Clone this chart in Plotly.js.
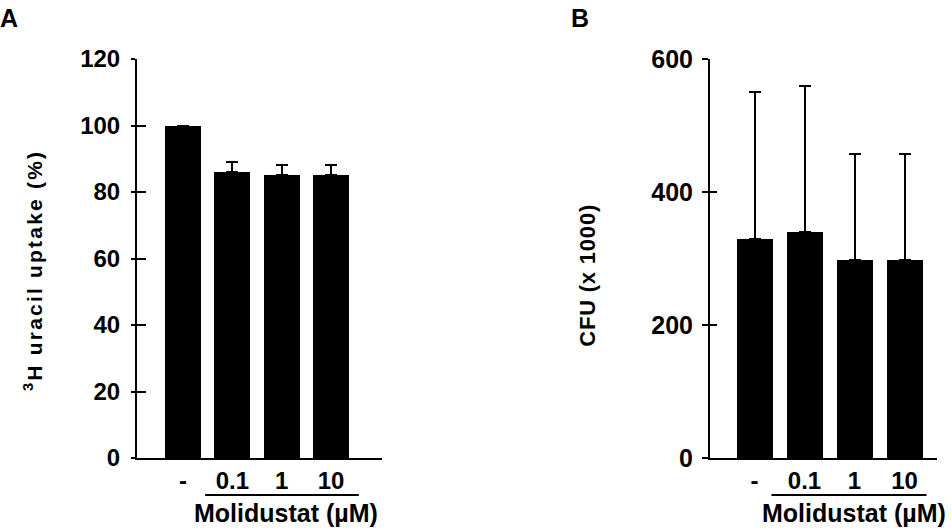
<!DOCTYPE html>
<html>
<head>
<meta charset="utf-8">
<script src="https://cdn.plot.ly/plotly-3.0.1.min.js"></script>
<style>
  html, body { margin: 0; padding: 0; background: #fff; }
  #chart { width: 952px; height: 532px; }
  g.annotation[data-index="0"] text { letter-spacing: 2.2px; }
  g.annotation[data-index="1"] text { letter-spacing: 0.8px; }
</style>
</head>
<body>
<div id="chart"></div>
<script>
// ---- data ----
const categories = ['-', '0.1', '1', '10'];
const uptakeMean = [100, 86, 85, 85];
const uptakeErr = [0, 3, 3, 3];
const cfuMean = [330, 340, 297, 297];
const cfuErr = [220, 220, 160, 160];
const yTicksA = [0, 20, 40, 60, 80, 100, 120];
const yTicksB = [0, 200, 400, 600];
const titleA = '<sup>3</sup>H uracil uptake (%)';
const titleB = 'CFU (x 1000)';
const groupLabel = 'Molidustat (µM)';

const xIdx = categories.map((c, i) => i);
const zeros = categories.map(() => 0);

const sans = '"Liberation Sans", Arial, Helvetica, sans-serif';

const barA = {
  type: 'bar', x: xIdx, y: uptakeMean, width: 0.73,
  marker: { color: '#000', line: { width: 0 } },
  error_y: { type: 'data', symmetric: false, array: uptakeErr, arrayminus: zeros,
             color: '#000', thickness: 2, width: 6 },
  xaxis: 'x', yaxis: 'y', hoverinfo: 'skip', showlegend: false
};
const barB = {
  type: 'bar', x: xIdx, y: cfuMean, width: 0.72,
  marker: { color: '#000', line: { width: 0 } },
  error_y: { type: 'data', symmetric: false, array: cfuErr, arrayminus: zeros,
             color: '#000', thickness: 2, width: 6 },
  xaxis: 'x2', yaxis: 'y2', hoverinfo: 'skip', showlegend: false
};
// invisible helpers so the overlay axes (inner tick halves) get drawn
const ghostA = { type: 'scatter', mode: 'markers', x: xIdx, y: uptakeMean, marker: { opacity: 0 },
  xaxis: 'x', yaxis: 'y3', hoverinfo: 'skip', showlegend: false };
const ghostB = { type: 'scatter', mode: 'markers', x: xIdx, y: cfuMean, marker: { opacity: 0 },
  xaxis: 'x2', yaxis: 'y4', hoverinfo: 'skip', showlegend: false };

const yDom = [1 - 458 / 532, 1 - 59 / 532];

const layout = {
  width: 952, height: 532,
  margin: { l: 0, r: 0, t: 0, b: 0 },
  paper_bgcolor: '#fff', plot_bgcolor: '#fff',
  showlegend: false,
  bargap: 0,
  xaxis: {
    domain: [137 / 952, 382 / 952], range: [-0.93, 4.03], anchor: 'y',
    showgrid: false, zeroline: false, showline: true, linecolor: '#000', linewidth: 2,
    ticks: '', tickvals: xIdx, ticktext: categories, ticklabelstandoff: 0,
    tickfont: { family: sans, size: 24, color: '#000', weight: 700 }
  },
  yaxis: {
    domain: yDom, range: [0, 120], anchor: 'x',
    showgrid: false, zeroline: false, showline: true, linecolor: '#000', linewidth: 2,
    ticks: 'outside', ticklen: 4, tickwidth: 2, tickcolor: '#000',
    tickvals: yTicksA, ticklabelstandoff: 6,
    tickfont: { family: sans, size: 24, color: '#000', weight: 700 }
  },
  yaxis3: {
    overlaying: 'y', anchor: 'x', side: 'left', range: [0, 120],
    showgrid: false, zeroline: false, showline: false,
    ticks: 'inside', ticklen: 9, tickwidth: 2, tickcolor: '#000',
    tickvals: yTicksA.filter(v => v > 0), showticklabels: false
  },
  xaxis2: {
    domain: [710 / 952, 937 / 952], range: [-0.89, 3.65], anchor: 'y2',
    showgrid: false, zeroline: false, showline: true, linecolor: '#000', linewidth: 2,
    ticks: '', tickvals: xIdx, ticktext: categories, ticklabelstandoff: 0,
    tickfont: { family: sans, size: 24, color: '#000', weight: 700 }
  },
  yaxis2: {
    domain: yDom, range: [0, 600], anchor: 'x2',
    showgrid: false, zeroline: false, showline: true, linecolor: '#000', linewidth: 2,
    ticks: 'outside', ticklen: 6, tickwidth: 2, tickcolor: '#000',
    tickvals: yTicksB, ticklabelstandoff: 4,
    tickfont: { family: sans, size: 25, color: '#000', weight: 700 }
  },
  yaxis4: {
    overlaying: 'y2', anchor: 'x2', side: 'left', range: [0, 600],
    showgrid: false, zeroline: false, showline: false,
    ticks: 'inside', ticklen: 7, tickwidth: 2, tickcolor: '#000',
    tickvals: yTicksB.filter(v => v > 0), showticklabels: false
  },
  shapes: [
    { type: 'line', xref: 'x', yref: 'paper', x0: xIdx[1] - 0.55, x1: xIdx[3] + 0.56,
      y0: 1 - 495 / 532, y1: 1 - 495 / 532, line: { color: '#000', width: 2 } },
    { type: 'line', xref: 'x2', yref: 'paper', x0: xIdx[1] - 0.66, x1: xIdx[3] + 0.44,
      y0: 1 - 495 / 532, y1: 1 - 495 / 532, line: { color: '#000', width: 2 } }
  ],
  annotations: [
    { text: titleA, textangle: -90, xref: 'paper', yref: 'paper',
      x: 33 / 952, y: 1 - 271 / 532, xanchor: 'center', yanchor: 'middle', showarrow: false,
      font: { family: sans, size: 21, color: '#000', weight: 700 } },
    { text: titleB, textangle: -90, xref: 'paper', yref: 'paper',
      x: 587 / 952, y: 1 - 276 / 532, xanchor: 'center', yanchor: 'middle', showarrow: false,
      font: { family: sans, size: 22, color: '#000', weight: 700 } },
    { text: 'A', xref: 'paper', yref: 'paper', x: 0, y: 1 - 2 / 532,
      xanchor: 'left', yanchor: 'top', showarrow: false, xshift: -2,
      font: { family: sans, size: 25, color: '#000', weight: 700 } },
    { text: 'B', xref: 'paper', yref: 'paper', x: 571 / 952, y: 1 - 2 / 532,
      xanchor: 'left', yanchor: 'top', showarrow: false, xshift: -2,
      font: { family: sans, size: 25, color: '#000', weight: 700 } },
    { text: groupLabel, xref: 'paper', yref: 'paper', x: 286 / 952, y: 1 - 513 / 532,
      xanchor: 'center', yanchor: 'middle', showarrow: false,
      font: { family: sans, size: 25, color: '#000', weight: 700 } },
    { text: groupLabel, xref: 'paper', yref: 'paper', x: 854 / 952, y: 1 - 513 / 532,
      xanchor: 'center', yanchor: 'middle', showarrow: false,
      font: { family: sans, size: 25, color: '#000', weight: 700 } }
  ]
};

Plotly.newPlot('chart', [barA, barB, ghostA, ghostB], layout, { staticPlot: true, displayModeBar: false });
</script>
</body>
</html>
